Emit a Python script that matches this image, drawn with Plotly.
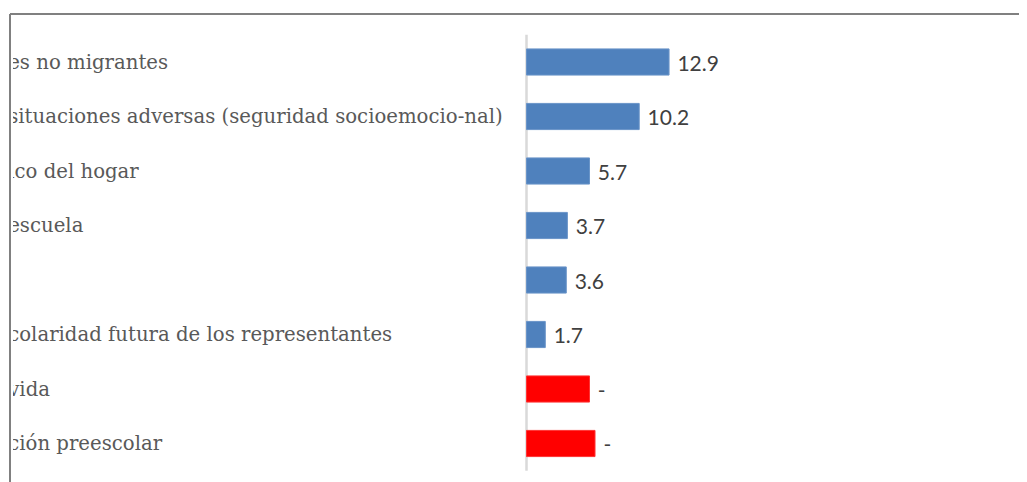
import plotly.graph_objects as go

# Visible (left-cropped) category labels, top to bottom
labels = [
    "es no migrantes",
    "situaciones adversas (seguridad socioemocio-nal)",
    "ico del hogar",
    "escuela",
    "",
    "colaridad futura de los representantes",
    "vida",
    "ción preescolar",
]

# Significant effects (blue) and non-significant placeholders (red)
blue_values = [12.9, 10.2, 5.7, 3.7, 3.6, 1.7]
red_values = [5.7, 6.2]
red_text = ["-", "-"]

# The page body has an 8px margin, so figure coords = screen coords - 8
OFF = 8
W, H = 1027 - OFF, 482 - OFF
FRAME_X = 10 - OFF          # left frame line
FRAME_Y = 14 - OFF          # top frame line
PX_PER_UNIT = 11.05
ZERO_PX = 526.5 - OFF
ROW_PX = 54.5
FIRST_ROW_PX = 62 - OFF

x_min = -ZERO_PX / PX_PER_UNIT
x_max = (W - ZERO_PX) / PX_PER_UNIT
y_top = -(FIRST_ROW_PX - FRAME_Y) / ROW_PX
y_bot = y_top + (H - FRAME_Y) / ROW_PX

rows = list(range(len(labels)))
blue_rows = rows[: len(blue_values)]
red_rows = rows[len(blue_values):]

VALUE_FONT = dict(family="Lato, Carlito, sans-serif", size=21, color="#404040")

fig = go.Figure()

fig.add_trace(
    go.Bar(
        x=blue_values,
        y=blue_rows,
        orientation="h",
        width=0.48,
        marker=dict(color="#4f81bd", line=dict(color="#6a94c8", width=1)),
        text=[f" {v}" for v in blue_values],
        textposition="outside",
        textfont=VALUE_FONT,
        cliponaxis=False,
        hoverinfo="skip",
    )
)
fig.add_trace(
    go.Bar(
        x=red_values,
        y=red_rows,
        orientation="h",
        width=0.48,
        marker=dict(color="#ff0000", line=dict(color="#ff3333", width=1)),
        text=[f" {t}" for t in red_text],
        textposition="outside",
        textfont=VALUE_FONT,
        cliponaxis=False,
        hoverinfo="skip",
    )
)

# Left-aligned category labels, starting at the frame edge
label_x = x_min + 0.02
fig.add_trace(
    go.Scatter(
        x=[label_x] * len(labels),
        y=[r + 0.03 for r in rows],
        mode="text",
        text=labels,
        textposition="middle right",
        textfont=dict(family="DejaVu Serif", size=19.7, color="#595959"),
        cliponaxis=True,
        hoverinfo="skip",
    )
)

fig.update_xaxes(range=[x_min, x_max], visible=False, fixedrange=True)
fig.update_yaxes(range=[y_bot, y_top], visible=False, fixedrange=True)

fx = FRAME_X / W
fy = 1  # top of plot area is the top frame line

fig.update_layout(
    width=W,
    height=H,
    margin=dict(l=0, r=0, t=FRAME_Y, b=0),
    paper_bgcolor="white",
    plot_bgcolor="white",
    barmode="overlay",
    showlegend=False,
    shapes=[
        # category axis line
        dict(type="line", xref="x", yref="y", x0=0, x1=0, y0=-0.5, y1=len(labels) - 0.5,
             line=dict(color="#d9d9d9", width=2.5), layer="below"),
        # mask that crops the start of the labels
        dict(type="rect", xref="paper", yref="paper", x0=0, x1=(FRAME_X + 3) / W, y0=0, y1=1,
             fillcolor="white", line=dict(width=0), layer="above"),
        # frame (top and left edges)
        dict(type="line", xref="paper", yref="paper", x0=fx, x1=1, y0=fy, y1=fy,
             line=dict(color="#808080", width=2), layer="above"),
        dict(type="line", xref="paper", yref="paper", x0=fx, x1=fx, y0=0, y1=fy,
             line=dict(color="#808080", width=2), layer="above"),
    ],
)

fig.write_html("out.html")
